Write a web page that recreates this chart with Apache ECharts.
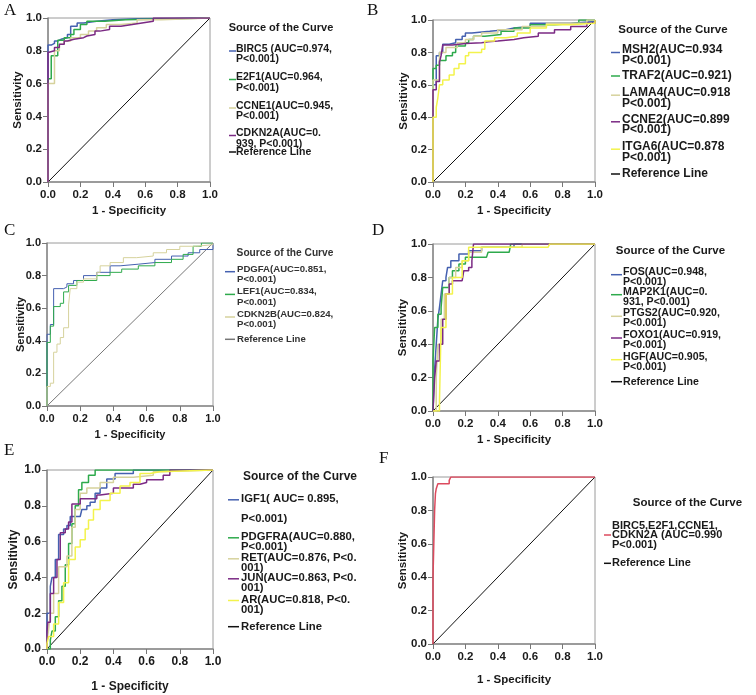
<!DOCTYPE html>
<html><head><meta charset="utf-8">
<script src="https://cdn.jsdelivr.net/npm/echarts@6/dist/echarts.min.js"></script>
<style>html,body{margin:0;padding:0;background:#fff}#c{width:756px;height:695px}</style>
</head><body><div id="c"></div>
<script>
// ---------- DATA ----------
const tickValues = [0, 0.2, 0.4, 0.6, 0.8, 1.0];
const refLine = [[0,0],[1,1]];

// Panel A
const A_BIRC5 = [[0,0],[0,0.835],[0.02,0.845],[0.04,0.86],[0.06,0.87],[0.08,0.88],[0.12,0.9],[0.14,0.95],[0.18,0.97],[0.22,0.98],[0.3,0.99],[0.4,0.995],[0.55,1],[1,1]];
const A_E2F1 = [[0,0],[0,0.63],[0.02,0.77],[0.06,0.865],[0.1,0.88],[0.14,0.9],[0.16,0.93],[0.2,0.96],[0.24,0.98],[0.35,0.99],[0.48,1],[1,1]];
const A_CCNE1 = [[0,0],[0,0.6],[0.04,0.8],[0.07,0.84],[0.1,0.86],[0.14,0.88],[0.2,0.9],[0.25,0.92],[0.3,0.94],[0.36,0.96],[0.45,0.97],[0.55,0.99],[0.7,1],[1,1]];
const A_CDKN2A = [[0,0],[0,0.79],[0.01,0.8],[0.04,0.82],[0.07,0.84],[0.1,0.86],[0.12,0.87],[0.16,0.88],[0.22,0.89],[0.24,0.9],[0.29,0.92],[0.32,0.93],[0.38,0.95],[0.45,0.96],[0.52,0.97],[0.58,0.98],[0.65,1],[1,1]];
const A_names = ["BIRC5 (AUC=0.974,\nP<0.001)", "E2F1(AUC=0.964,\nP<0.001)", "CCNE1(AUC=0.945,\nP<0.001)", "CDKN2A(AUC=0.\n939, P<0.001)", "Reference Line"];

// Panel B
const B_MSH2 = [[0,0],[0,0.6],[0.02,0.78],[0.04,0.8],[0.06,0.85],[0.1,0.86],[0.14,0.88],[0.18,0.9],[0.2,0.92],[0.24,0.93],[0.35,0.94],[0.45,0.95],[0.5,0.96],[0.6,0.98],[0.85,0.99],[1,1]];
const B_TRAF2 = [[0,0],[0,0.7],[0.02,0.72],[0.04,0.75],[0.08,0.78],[0.12,0.8],[0.14,0.84],[0.2,0.86],[0.22,0.88],[0.25,0.9],[0.32,0.91],[0.42,0.93],[0.5,0.95],[0.6,0.97],[0.75,0.98],[0.9,1],[1,1]];
const B_LAMA4 = [[0,0],[0,0.63],[0.04,0.8],[0.08,0.83],[0.15,0.86],[0.2,0.88],[0.25,0.9],[0.3,0.92],[0.4,0.94],[0.55,0.96],[0.7,0.98],[0.95,1],[1,1]];
const B_CCNE2 = [[0,0],[0,0.57],[0.02,0.62],[0.04,0.74],[0.05,0.78],[0.06,0.845],[0.12,0.855],[0.2,0.86],[0.3,0.865],[0.34,0.87],[0.4,0.88],[0.5,0.89],[0.56,0.9],[0.65,0.92],[0.75,0.94],[0.85,0.96],[0.95,0.98],[1,1]];
const B_ITGA6 = [[0,0],[0,0.4],[0.02,0.46],[0.03,0.52],[0.04,0.6],[0.06,0.63],[0.1,0.66],[0.13,0.7],[0.16,0.73],[0.2,0.78],[0.22,0.8],[0.3,0.82],[0.32,0.87],[0.38,0.89],[0.45,0.9],[0.52,0.92],[0.6,0.95],[0.7,0.97],[0.85,0.98],[1,1]];
const B_names = ["MSH2(AUC=0.934\nP<0.001)", "TRAF2(AUC=0.921)", "LAMA4(AUC=0.918\nP<0.001)", "CCNE2(AUC=0.899\nP<0.001)", "ITGA6(AUC=0.878\nP<0.001)", "Reference Line"];

// Panel C
const C_PDGFA = [[0,0],[0,0.44],[0.02,0.5],[0.04,0.72],[0.1,0.73],[0.12,0.75],[0.16,0.77],[0.22,0.8],[0.3,0.82],[0.38,0.86],[0.44,0.87],[0.55,0.88],[0.65,0.9],[0.75,0.92],[0.85,0.94],[0.92,0.96],[1,1]];
const C_LEF1 = [[0,0],[0,0.39],[0.02,0.49],[0.04,0.61],[0.08,0.63],[0.1,0.7],[0.13,0.74],[0.18,0.77],[0.3,0.8],[0.38,0.82],[0.45,0.84],[0.55,0.86],[0.65,0.88],[0.75,0.9],[0.82,0.93],[0.88,0.98],[0.93,1],[1,1]];
const C_CDKN2B = [[0,0],[0,0.12],[0.02,0.14],[0.04,0.33],[0.06,0.38],[0.08,0.42],[0.1,0.48],[0.13,0.62],[0.14,0.72],[0.18,0.76],[0.22,0.78],[0.3,0.82],[0.32,0.86],[0.38,0.88],[0.46,0.91],[0.54,0.92],[0.64,0.94],[0.72,0.96],[0.8,0.98],[0.9,0.99],[1,1]];
const C_names = ["PDGFA(AUC=0.851,\nP<0.001)", "LEF1(AUC=0.834,\nP<0.001)", "CDKN2B(AUC=0.824,\nP<0.001)", "Reference Line"];

// Panel D
const D_FOS = [[0,0],[0.01,0.25],[0.02,0.4],[0.03,0.55],[0.04,0.62],[0.05,0.7],[0.06,0.78],[0.08,0.8],[0.09,0.86],[0.11,0.9],[0.16,0.94],[0.22,0.96],[0.3,0.98],[0.5,1],[1,1]];
const D_MAP2K1 = [[0,0],[0,0.3],[0.01,0.5],[0.03,0.58],[0.05,0.62],[0.06,0.74],[0.1,0.8],[0.12,0.84],[0.16,0.88],[0.2,0.92],[0.33,0.92],[0.34,0.95],[0.47,0.96],[0.48,1],[1,1]];
const D_PTGS2 = [[0,0],[0.02,0.2],[0.03,0.4],[0.05,0.55],[0.07,0.7],[0.1,0.8],[0.14,0.86],[0.18,0.9],[0.22,0.95],[0.3,0.98],[0.55,1],[1,1]];
const D_FOXO1 = [[0,0],[0.01,0.2],[0.02,0.3],[0.04,0.4],[0.06,0.55],[0.08,0.7],[0.1,0.76],[0.12,0.78],[0.18,0.78],[0.19,0.84],[0.22,0.86],[0.24,0.9],[0.25,1],[1,1]];
const D_HGF = [[0,0],[0.04,0.06],[0.05,0.5],[0.08,0.7],[0.12,0.8],[0.18,0.9],[0.22,0.98],[0.71,0.98],[0.72,1],[1,1]];
const D_names = ["FOS(AUC=0.948,\nP<0.001)", "MAP2K1(AUC=0.\n931, P<0.001)", "PTGS2(AUC=0.920,\nP<0.001)", "FOXO1(AUC=0.919,\nP<0.001)", "HGF(AUC=0.905,\nP<0.001)", "Reference Line"];

// Panel E
const E_IGF1 = [[0,0],[0,0.2],[0.02,0.35],[0.03,0.4],[0.05,0.5],[0.07,0.64],[0.1,0.67],[0.12,0.69],[0.14,0.74],[0.2,0.74],[0.21,0.78],[0.24,0.8],[0.26,0.82],[0.29,0.87],[0.32,0.9],[0.36,0.95],[0.41,0.98],[0.52,1],[1,1]];
const E_PDGFRA = [[0,0],[0.02,0.05],[0.03,0.1],[0.05,0.18],[0.07,0.27],[0.09,0.35],[0.11,0.47],[0.13,0.59],[0.15,0.7],[0.17,0.8],[0.19,0.89],[0.21,0.93],[0.25,0.97],[0.29,1],[1,1]];
const E_RET = [[0,0],[0,0.05],[0.01,0.11],[0.02,0.2],[0.04,0.31],[0.07,0.46],[0.12,0.52],[0.15,0.68],[0.17,0.78],[0.2,0.87],[0.24,0.9],[0.32,0.93],[0.4,0.96],[0.52,0.97],[0.64,0.99],[0.67,1],[1,1]];
const E_JUN = [[0,0],[0,0.1],[0.005,0.15],[0.02,0.31],[0.04,0.4],[0.06,0.5],[0.08,0.65],[0.11,0.67],[0.13,0.71],[0.15,0.81],[0.2,0.84],[0.3,0.86],[0.32,0.87],[0.4,0.9],[0.52,0.92],[0.56,0.93],[0.6,0.945],[0.7,0.97],[0.74,1],[1,1]];
const E_AR = [[0,0],[0,0.03],[0.01,0.07],[0.04,0.14],[0.07,0.26],[0.1,0.37],[0.13,0.5],[0.17,0.57],[0.2,0.61],[0.23,0.67],[0.25,0.72],[0.28,0.78],[0.32,0.83],[0.38,0.87],[0.44,0.91],[0.5,0.93],[0.56,0.98],[0.62,0.99],[0.68,1],[1,1]];
const E_names = ["IGF1( AUC= 0.895,\n\nP<0.001)", "PDGFRA(AUC=0.880,\nP<0.001)", "RET(AUC=0.876, P<0.\n001)", "JUN(AUC=0.863, P<0.\n001)", "AR(AUC=0.818, P<0.\n001)", "Reference Line"];

// Panel F
const F_COMBO = [[0,0],[0,0.4],[0.005,0.6],[0.01,0.8],[0.015,0.9],[0.02,0.93],[0.03,0.96],[0.1,0.96],[0.1,0.98],[0.11,1],[1,1]];
const F_names = ["BIRC5,E2F1,CCNE1,\nCDKN2A (AUC=0.990\nP<0.001)", "Reference Line"];

const panelLetters = ["A","B","C","D","E","F"];
const legendTitle = "Source of the Curve";
const xName = "1 - Specificity";
const yName = "Sensitivity";

// ---------- STYLE ----------
const COL = {blue:'#4561b0', green:'#2eaa4c', khaki:'#d6d29c', purple:'#7b2a84', yellow:'#f3f34c', red:'#dc4a5e', black:'#111', gray:'#777'};
const FONT = '"Liberation Sans", Arial, sans-serif';

const panels = [
  {grid:{left:48,top:18,width:162,height:164}, lw:1.5, ref:COL.black,
   curves:[[A_BIRC5,COL.blue],[A_E2F1,COL.green],[A_CCNE1,COL.khaki],[A_CDKN2A,COL.purple]], names:A_names,
   xGap:23.3, yGap:24, fs:11.5,
   leg:{tx:281, ty:28, tfs:11, mx:229, mw:7, x:236, ys:[49,77.5,106,133.5,152], fs:10.5, lh:10.3, md:2, col:'#1a1a1a'},
   letter:[4,2]},
  {grid:{left:433,top:20,width:162,height:162}, lw:1.5, ref:COL.black,
   curves:[[B_MSH2,COL.blue],[B_TRAF2,COL.green],[B_LAMA4,COL.khaki],[B_CCNE2,COL.purple],[B_ITGA6,COL.yellow]], names:B_names,
   xGap:23.3, yGap:23.3, fs:11.5,
   leg:{tx:673, ty:29.5, tfs:11.5, mx:611, mw:9, x:622, ys:[50,76,92.7,119.3,146.7,174], fs:12, lh:10.7, md:2.5, col:'#1a1a1a'},
   letter:[367,2]},
  {grid:{left:47,top:243,width:166,height:163}, lw:1, ref:COL.gray,
   curves:[[C_PDGFA,COL.blue],[C_LEF1,COL.green],[C_CDKN2B,COL.khaki]], names:C_names,
   xGap:23.5, yGap:20.8, fs:11,
   leg:{tx:285, ty:252.7, tfs:10.2, mx:225, mw:10, x:237, ys:[269,291.7,314.3,339.3], fs:9.6, lh:10.5, md:2.7, col:'#333'},
   letter:[4,222]},
  {grid:{left:433,top:244,width:162,height:167}, lw:1.5, ref:COL.black,
   curves:[[D_FOS,COL.blue],[D_MAP2K1,COL.green],[D_PTGS2,COL.khaki],[D_FOXO1,COL.purple],[D_HGF,COL.yellow]], names:D_names,
   xGap:23.3, yGap:24.5, fs:11.5,
   leg:{tx:670.5, ty:250.7, tfs:11.5, mx:611, mw:11, x:623, ys:[271.7,291.7,313.3,335,356.7,381.7], fs:10.6, lh:10, md:3, col:'#1a1a1a'},
   letter:[372,222]},
  {grid:{left:47,top:470,width:166,height:179}, lw:1.5, ref:COL.black,
   curves:[[E_IGF1,COL.blue],[E_PDGFRA,COL.green],[E_RET,COL.khaki],[E_JUN,COL.purple],[E_AR,COL.yellow]], names:E_names,
   xGap:31.7, yGap:27.7, fs:12,
   leg:{tx:300, ty:476.7, tfs:12, mx:228, mw:11, x:241, ys:[499.3,537.3,558.3,578.3,600,626.7], fs:11.3, lh:9.8, md:0.5, col:'#1a1a1a'},
   letter:[4,442]},
  {grid:{left:433,top:477,width:162,height:167}, lw:1.5, ref:COL.black,
   curves:[[F_COMBO,COL.red]], names:F_names,
   xGap:30.3, yGap:24.5, fs:11.5,
   leg:{tx:687.5, ty:503.3, tfs:11.5, mx:604, mw:7, x:612, ys:[526,563.3], fs:11, lh:9.3, md:9, col:'#1a1a1a'},
   letter:[379,450]}
];

const grids = [], xAxes = [], yAxes = [], series = [], graphics = [];
panels.forEach((p, i) => {
  grids.push(Object.assign({show:true, borderColor:'#9a9a9a', borderWidth:1, containLabel:false}, p.grid));
  const lblStyle = {fontFamily:FONT, fontWeight:'bold', fontSize:p.fs, color:'#1a1a1a'};
  const axisCommon = {
    gridIndex:i, type:'value', min:0, max:1, interval:0.2,
    nameLocation:'middle', nameMoveOverlap:false,
    nameTextStyle:{fontFamily:FONT, fontWeight:'bold', fontSize:p.fs, color:'#1a1a1a'},
    axisLine:{show:true, onZero:false, lineStyle:{color:'#8a8a8a', width:1.5}},
    axisTick:{show:true, length:5, lineStyle:{color:'#777'}},
    splitLine:{show:false}
  };
  xAxes.push(Object.assign({}, axisCommon, {name:xName, nameGap:p.xGap,
    axisLabel:Object.assign({margin:7, formatter:v => v.toFixed(1)}, lblStyle)}));
  yAxes.push(Object.assign({}, axisCommon, {name:yName, nameGap:p.yGap,
    axisLabel:Object.assign({margin:6, formatter:v => v.toFixed(1)}, lblStyle)}));
  series.push({type:'line', xAxisIndex:i, yAxisIndex:i, data:refLine, symbol:'none', silent:true,
    lineStyle:{color:p.ref, width:1}, z:2});
  p.curves.forEach((c, k) => {
    series.push({type:'line', xAxisIndex:i, yAxisIndex:i, data:c[0], step:'end', symbol:'none', silent:true,
      lineStyle:{color:c[1], width:p.lw}, z:3 + k});
  });
  // legend (one text element per line)
  const L = p.leg;
  graphics.push({type:'text', x:L.tx, y:L.ty, style:{text:legendTitle, font:`bold ${L.tfs}px ${FONT}`, fill:L.col, textAlign:'center', textVerticalAlign:'middle'}});
  const colors = p.curves.map(c => c[1]).concat([p.ref]);
  p.names.forEach((nm, k) => {
    const lines = nm.split('\n');
    const y0 = L.ys[k];
    lines.forEach((ln, j) => {
      if (!ln) return;
      graphics.push({type:'text', x:L.x, y:y0 + j * L.lh,
        style:{text:ln, font:`bold ${L.fs}px ${FONT}`, fill:L.col, textAlign:'left', textVerticalAlign:'middle'}});
    });
    const my = lines.length > 1 ? y0 + L.md : y0;
    graphics.push({type:'rect', shape:{x:L.mx, y:my - 0.75, width:L.mw, height:1.5}, style:{fill:colors[k]}});
  });
  graphics.push({type:'text', x:p.letter[0], y:p.letter[1],
    style:{text:panelLetters[i], font:`17px "Liberation Serif", "DejaVu Serif", serif`, fill:'#111', textAlign:'left', textVerticalAlign:'top'}});
});

const chart = echarts.init(document.getElementById('c'), null, {renderer:'canvas'});
chart.setOption({
  animation:false,
  backgroundColor:'#fff',
  grid:grids, xAxis:xAxes, yAxis:yAxes, series:series, graphic:graphics
});
</script></body></html>
